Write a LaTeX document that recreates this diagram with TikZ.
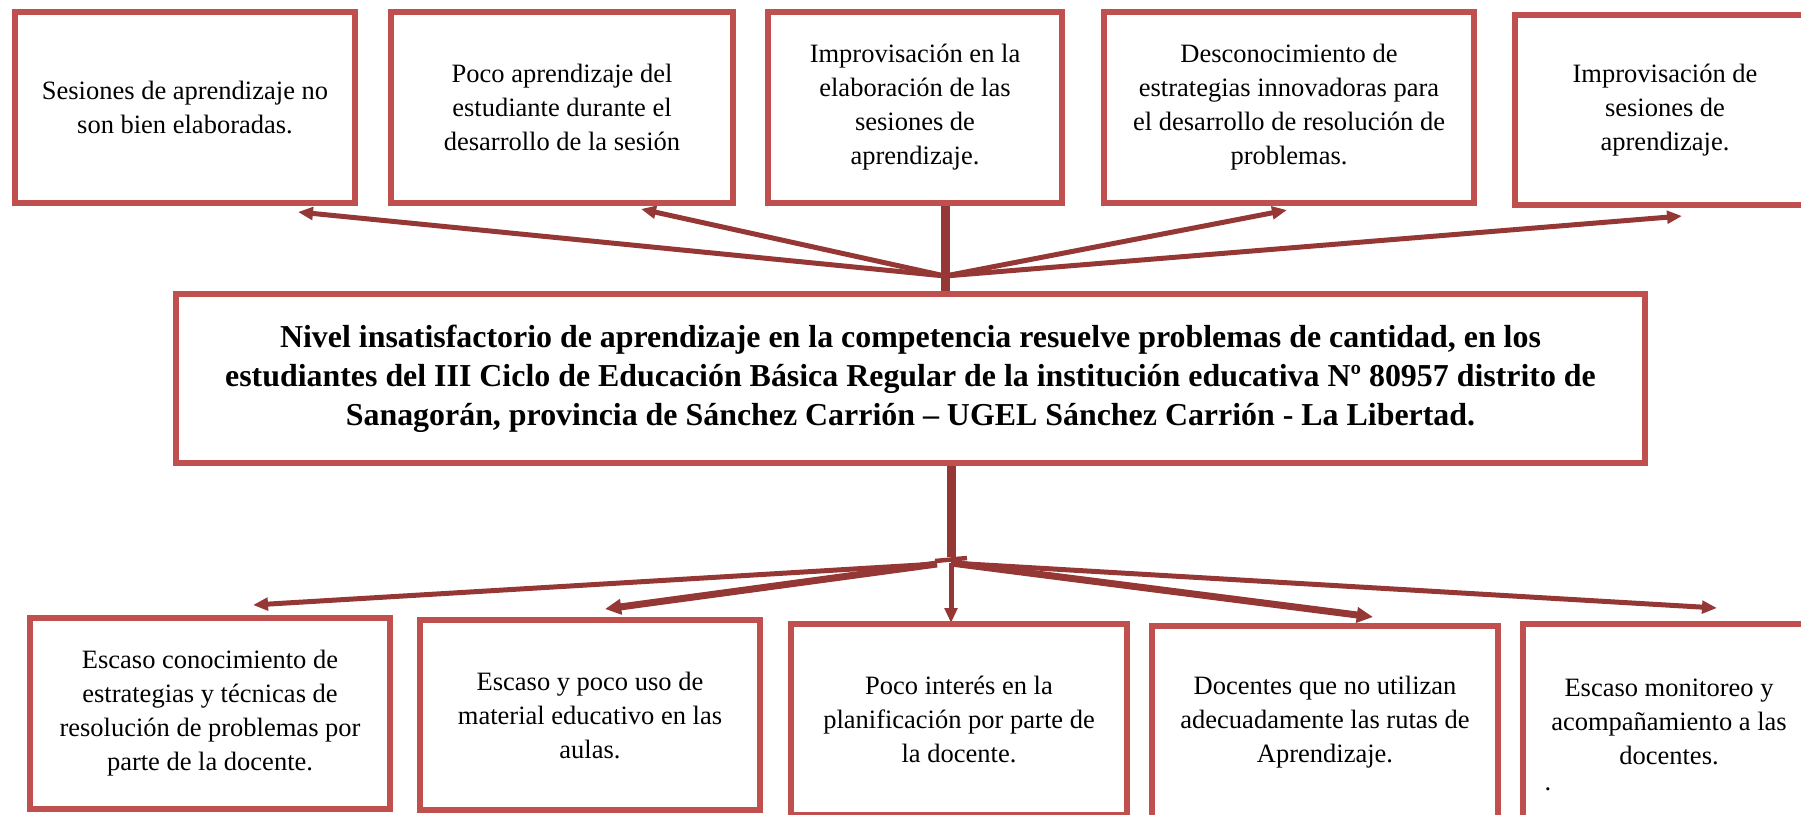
\documentclass[tikz,border=0pt]{standalone}
\usepackage{fontspec}
\setmainfont{Liberation Serif}
\usetikzlibrary{arrows.meta}
\pgfdeclarelayer{edgelayer}
\pgfdeclarelayer{nodelayer}
\pgfsetlayers{edgelayer,nodelayer,main}
\definecolor{rojocaja}{HTML}{C0504D}
\definecolor{rojoflecha}{HTML}{953735}
\tikzstyle{none}=[inner sep=0pt]
\tikzstyle{causa}=[rectangle,draw=rojocaja,line width=2.4pt,align=center,inner sep=2pt,font=\fontsize{10.6}{13.6}\selectfont]
\tikzstyle{problema}=[rectangle,draw=rojocaja,line width=2.4pt,align=center,font=\bfseries\fontsize{12.76}{15.6}\selectfont]
\tikzstyle{tronco}=[-,draw=rojoflecha,line width=3.6pt]
\tikzstyle{raya}=[-,draw=rojoflecha,line width=1.8pt]
\tikzstyle{flecha}=[-{Triangle[length=6pt,width=5pt]},draw=rojoflecha,line width=2pt]
\tikzstyle{flechagruesa}=[-{Triangle[length=6.5pt,width=6pt]},draw=rojoflecha,line width=2.8pt]

\begin{document}
\begin{tikzpicture}[x=0.4pt,y=-0.4pt]
	\useasboundingbox (0,0) rectangle (1801,814);
	\begin{pgfonlayer}{nodelayer}
		\node [style=causa, minimum width=136pt, minimum height=76.4pt] (sesiones) at (185,107.5) {Sesiones de aprendizaje no\\son bien elaboradas.};
		\node [style=causa, minimum width=136.8pt, minimum height=76.4pt] (poco) at (562,107.5) {Poco aprendizaje del\\estudiante durante el\\desarrollo de la sesión};
		\node [style=causa, minimum width=117.6pt, minimum height=76.4pt] (elaboracion) at (915,107.5) {Improvisación en la\\elaboración de las\\sesiones de\\aprendizaje.};
		\node [style=causa, minimum width=148pt, minimum height=76.4pt] (desconocimiento) at (1289,107.5) {Desconocimiento de\\estrategias innovadoras para\\el desarrollo de resolución de\\problemas.};
		\node [style=causa, minimum width=120pt, minimum height=76pt] (improvisacion) at (1665,110) {Improvisación de\\sesiones de\\aprendizaje.};
		\node [style=problema, minimum width=587.6pt, minimum height=67.6pt] (problema) at (910.5,378.5) {Nivel insatisfactorio de aprendizaje en la competencia resuelve problemas de cantidad, en los\\estudiantes del III Ciclo de Educación Básica Regular de la institución educativa Nº 80957 distrito de\\Sanagorán, provincia de Sánchez Carrión – UGEL Sánchez Carrión - La Libertad.};
		\node [style=causa, minimum width=144pt, minimum height=76.4pt] (conocimiento) at (210,713.5) {Escaso conocimiento de\\estrategias y técnicas de\\resolución de problemas por\\parte de la docente.};
		\node [style=causa, minimum width=136pt, minimum height=76pt] (material) at (590,715) {Escaso y poco uso de\\material educativo en las\\aulas.};
		\node [style=causa, minimum width=134.4pt, minimum height=76.4pt] (interes) at (959,719.5) {Poco interés en la\\planificación por parte de\\la docente.};
		\node [style=causa, minimum width=138.4pt, minimum height=76.8pt] (rutas) at (1325,722) {Docentes que no utilizan\\adecuadamente las rutas de\\Aprendizaje.};
		\node [style=causa, minimum width=116.8pt, minimum height=78.4pt] (monitoreo) at (1669,722) {Escaso monitoreo y\\acompañamiento a las\\docentes.};
		\node [style=none, font=\fontsize{10.6}{13.6}\selectfont] (punto) at (1548,789) {.};
		\coordinate (nudoarriba) at (945,276);
		\coordinate (puntasesiones) at (298,212);
		\coordinate (puntapoco) at (641,209);
		\coordinate (puntadesconocimiento) at (1287,210);
		\coordinate (puntaimprovisacion) at (1682,216);
		\coordinate (nudoabajo) at (937,564);
		\coordinate (salidainteres) at (951,563);
		\coordinate (finabajo) at (951,557);
		\coordinate (rayaizq) at (935,561);
		\coordinate (rayader) at (967,558);
		\coordinate (puntaconocimiento) at (253,605);
		\coordinate (puntamaterial) at (605,609);
		\coordinate (puntainteres) at (951,623);
		\coordinate (puntarutas) at (1373,617);
		\coordinate (puntamonitoreo) at (1717,608);
	\end{pgfonlayer}
	\begin{pgfonlayer}{edgelayer}
		\draw [style=tronco] (elaboracion.south -| nudoarriba) to (problema.north -| nudoarriba);
		\draw [style=flecha] (nudoarriba) to (puntasesiones);
		\draw [style=flecha] (nudoarriba) to (puntapoco);
		\draw [style=flecha] (nudoarriba) to (puntadesconocimiento);
		\draw [style=flecha] (nudoarriba) to (puntaimprovisacion);
		\draw [style=tronco] (problema.south -| finabajo) to (finabajo);
		\draw [style=raya] (rayaizq) to (rayader);
		\draw [style=flecha] (nudoabajo) to (puntaconocimiento);
		\draw [style=flechagruesa] (nudoabajo) to (puntamaterial);
		\draw [style=flecha] (salidainteres) to (puntainteres);
		\draw [style=flechagruesa] (salidainteres) to (puntarutas);
		\draw [style=flecha] (salidainteres) to (puntamonitoreo);
	\end{pgfonlayer}
\end{tikzpicture}
\end{document}
